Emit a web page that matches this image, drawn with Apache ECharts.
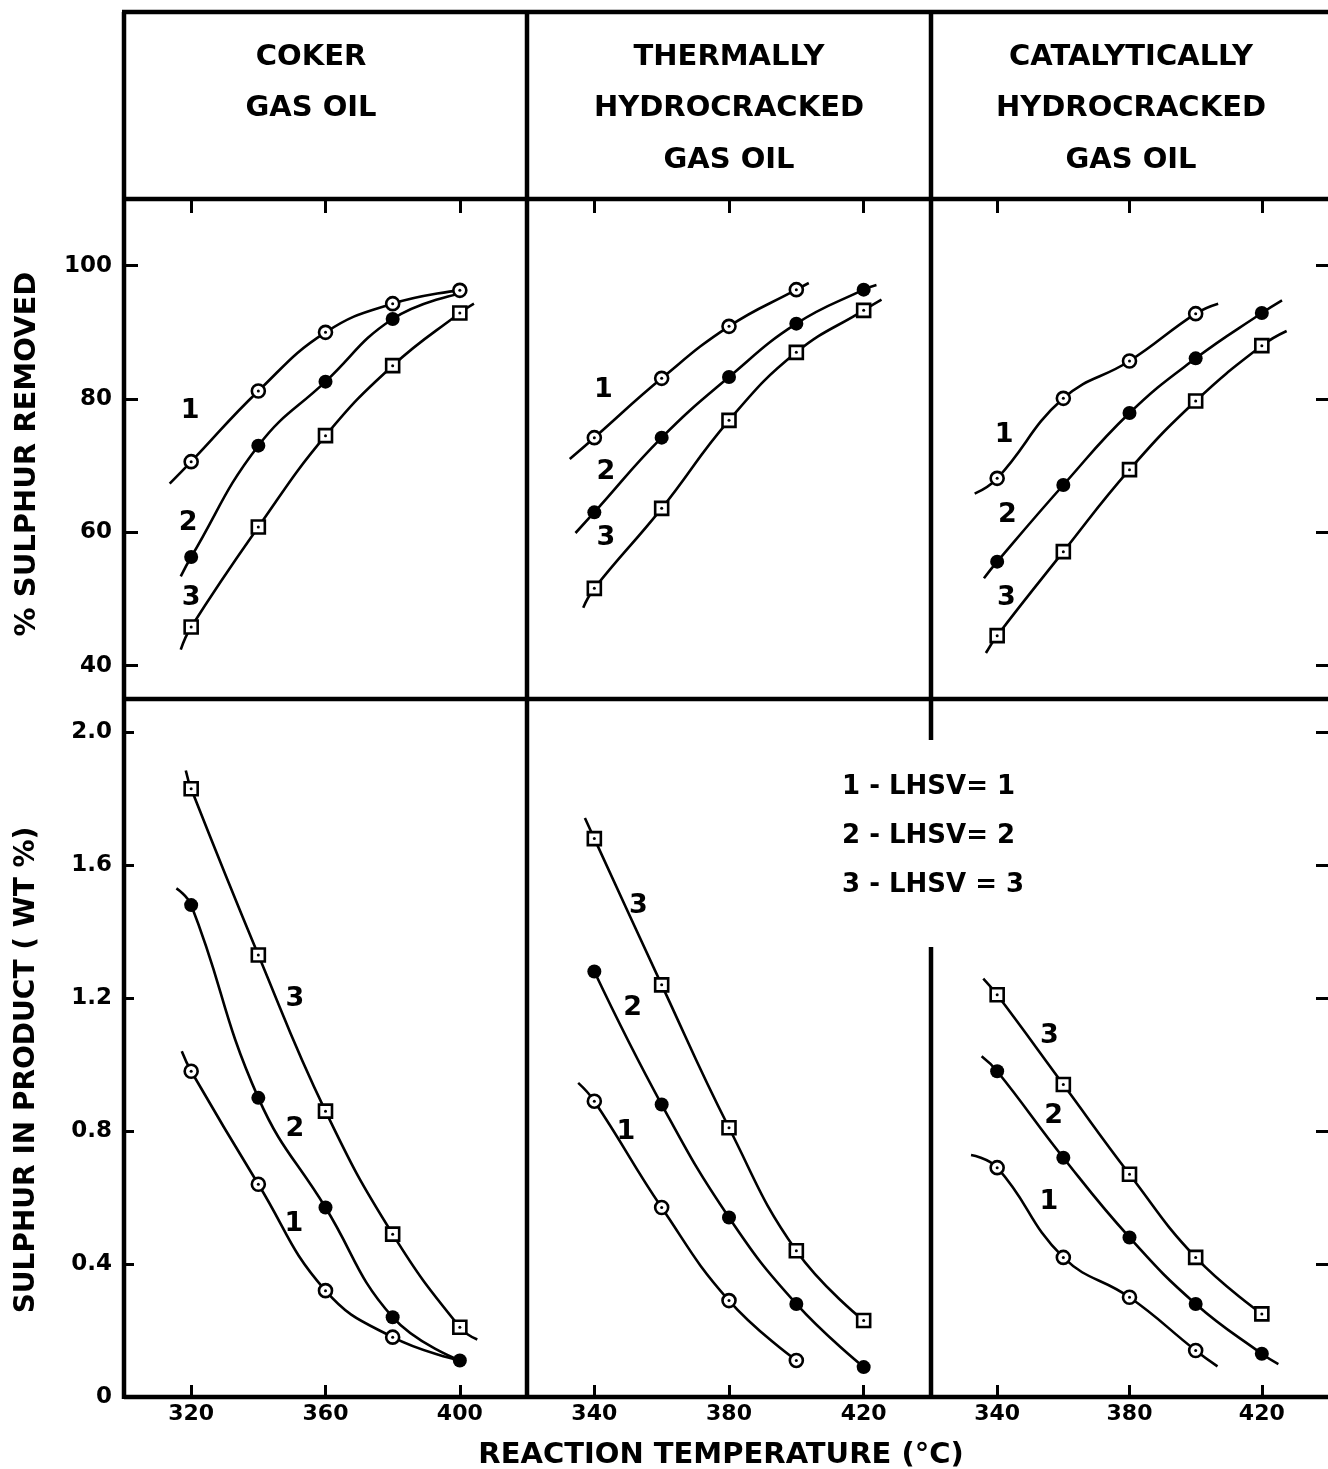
<!DOCTYPE html>
<html>
<head>
<meta charset="utf-8">
<title>Sulphur removal vs reaction temperature</title>
<script src="https://cdn.jsdelivr.net/npm/echarts@6/dist/echarts.min.js"></script>
<style>
  html, body { margin: 0; padding: 0; background: #fff; }
  #chart { width: 1328px; height: 1469px; }
</style>
</head>
<body>
<div id="chart"></div>
<script>
'use strict';

// ---- data ----
var feedTitles = [
    ['COKER', 'GAS OIL'],
    ['THERMALLY', 'HYDROCRACKED', 'GAS OIL'],
    ['CATALYTICALLY', 'HYDROCRACKED', 'GAS OIL']
];
var cokerTemps = [320, 340, 360, 380, 400];
var hydroTemps = [340, 360, 380, 400, 420];
var cokerTempTicks = [320, 360, 400];
var hydroTempTicks = [340, 380, 420];
var removedTicks = [40, 60, 80, 100];
var productTicks = [0, 0.4, 0.8, 1.2, 1.6, 2.0];
var curveNames = ['1', '2', '3'];
var legendLines = ['1 - LHSV= 1', '2 - LHSV= 2', '3 - LHSV = 3'];

// % sulphur removed (LHSV 1, 2, 3)
var cokerRemoved1 = [70.6, 81.2, 90.0, 94.3, 96.3];
var cokerRemoved2 = [56.3, 73.0, 82.6, 92.0, null];
var cokerRemoved3 = [45.8, 60.8, 74.5, 85.0, 92.9];
var thermalRemoved1 = [74.2, 83.1, 90.9, 96.4, null];
var thermalRemoved2 = [63.0, 74.2, 83.3, 91.3, 96.4];
var thermalRemoved3 = [51.6, 63.6, 76.8, 87.0, 93.3];
var catRemoved1 = [68.1, 80.1, 85.7, 92.8, null];
var catRemoved2 = [55.6, 67.1, 77.9, 86.1, 92.9];
var catRemoved3 = [44.5, 57.1, 69.4, 79.7, 88.0];

// sulphur in product, wt % (LHSV 1, 2, 3)
var cokerProduct1 = [0.98, 0.64, 0.32, 0.18, null];
var cokerProduct2 = [1.48, 0.90, 0.57, 0.24, 0.11];
var cokerProduct3 = [1.83, 1.33, 0.86, 0.49, 0.21];
var thermalProduct1 = [0.89, 0.57, 0.29, 0.11, null];
var thermalProduct2 = [1.28, 0.88, 0.54, 0.28, 0.09];
var thermalProduct3 = [1.68, 1.24, 0.81, 0.44, 0.23];
var catProduct1 = [0.69, 0.42, 0.30, 0.14, null];
var catProduct2 = [0.98, 0.72, 0.48, 0.28, 0.13];
var catProduct3 = [1.21, 0.94, 0.67, 0.42, 0.25];

// where the drawn curves run past the first / last point (null = stops on the point)
var cokerRemovedStart = [[313.6, 67.3], [316.9, 53.4], [316.9, 42.4]];
var cokerRemovedEnd = [null, [400, 95.8], [404.2, 94.3]];
var thermalRemovedStart = [[332.7, 71.0], [334.4, 59.9], [336.7, 48.7]];
var thermalRemovedEnd = [[403.7, 97.4], [423.8, 97.1], [425.3, 94.9]];
var catRemovedStart = [[333.2, 65.8], [336.0, 53.1], [336.6, 41.9]];
var catRemovedEnd = [[406.8, 94.3], [426.1, 94.8], [427.5, 90.2]];
var cokerProductStart = [[317.2, 1.04], [315.6, 1.53], [318.4, 1.885]];
var cokerProductEnd = [[400, 0.11], null, [405.2, 0.173]];
var thermalProductStart = [[335.2, 0.945], null, [337.2, 1.742]];
var thermalProductEnd = [null, null, null];
var catProductStart = [[332.1, 0.728], [335.3, 1.025], [335.8, 1.259]];
var catProductEnd = [[406.6, 0.092], [425.0, 0.099], null];

// where the 1 / 2 / 3 tags sit
var cokerRemovedTags = [[319.7, 78.2], [319.1, 61.4], [320.0, 50.2]];
var thermalRemovedTags = [[342.7, 81.4], [343.4, 69.1], [343.4, 59.2]];
var catRemovedTags = [[342.1, 74.6], [343.1, 62.6], [342.8, 50.1]];
var cokerProductTags = [[350.6, 0.52], [350.9, 0.805], [350.9, 1.198]];
var thermalProductTags = [[349.4, 0.798], [351.4, 1.169], [353.1, 1.476]];
var catProductTags = [[355.6, 0.587], [357.1, 0.844], [355.8, 1.086]];

// ---- layout ----
var frameL = 124, div1 = 527, div2 = 931, frameR = 1332;
var frameT = 12, headB = 199, midY = 699, baseY = 1397;
var gapTop = 740, gapBottom = 947;      // break in the right divider, lower half
var cols = [[frameL, div1], [div1, div2], [div2, frameR]];
var ink = '#000';
var font = '"DejaVu Sans", sans-serif';

var panels = [
    { temps: cokerTemps, values: [cokerRemoved1, cokerRemoved2, cokerRemoved3], start: cokerRemovedStart, end: cokerRemovedEnd, tags: cokerRemovedTags },
    { temps: hydroTemps, values: [thermalRemoved1, thermalRemoved2, thermalRemoved3], start: thermalRemovedStart, end: thermalRemovedEnd, tags: thermalRemovedTags },
    { temps: hydroTemps, values: [catRemoved1, catRemoved2, catRemoved3], start: catRemovedStart, end: catRemovedEnd, tags: catRemovedTags },
    { temps: cokerTemps, values: [cokerProduct1, cokerProduct2, cokerProduct3], start: cokerProductStart, end: cokerProductEnd, tags: cokerProductTags },
    { temps: hydroTemps, values: [thermalProduct1, thermalProduct2, thermalProduct3], start: thermalProductStart, end: thermalProductEnd, tags: thermalProductTags },
    { temps: hydroTemps, values: [catProduct1, catProduct2, catProduct3], start: catProductStart, end: catProductEnd, tags: catProductTags }
];

var grids = [], xAxes = [], yAxes = [], series = [];

panels.forEach(function (panel, p) {
    var row = p < 3 ? 0 : 1;
    var col = p % 3;
    var xTicks = col === 0 ? cokerTempTicks : hydroTempTicks;
    var yTicks = row === 0 ? removedTicks : productTicks;

    grids.push({
        left: cols[col][0],
        width: cols[col][1] - cols[col][0],
        top: row === 0 ? headB : midY,
        height: row === 0 ? midY - headB : baseY - midY
    });

    xAxes.push({
        type: 'value', gridIndex: p,
        min: col === 0 ? 300 : 320,
        max: col === 0 ? 420 : 440,
        position: row === 0 ? 'top' : 'bottom',
        axisLine: { show: false },
        axisTick: { inside: true, length: row === 0 ? 14 : 12, customValues: xTicks, lineStyle: { color: ink, width: 3 } },
        axisLabel: { show: row === 1, customValues: xTicks, margin: 6, color: ink, fontFamily: font, fontWeight: 'bold', fontSize: 22 },
        splitLine: { show: false }
    });

    yAxes.push({
        type: 'value', gridIndex: p,
        min: row === 0 ? 35 : 0,
        max: row === 0 ? 110 : 2.1,
        axisLine: { show: false },
        axisTick: { show: col === 0, inside: true, length: row === 0 ? 14 : 10, customValues: yTicks, lineStyle: { color: ink, width: 3 } },
        axisLabel: {
            show: col === 0, customValues: yTicks, margin: 12, color: ink,
            fontFamily: font, fontWeight: 'bold', fontSize: 23,
            formatter: function (v) { return row === 0 || v === 0 ? String(v) : v.toFixed(1); }
        },
        splitLine: { show: false }
    });

    for (var k = 0; k < 3; k++) {
        var pts = [];
        panel.temps.forEach(function (t, i) {
            if (panel.values[k][i] != null) pts.push([t, panel.values[k][i]]);
        });
        var curve = pts.slice();
        if (panel.start[k]) curve.unshift(panel.start[k]);
        if (panel.end[k]) curve.push(panel.end[k]);

        series.push({
            type: 'line', xAxisIndex: p, yAxisIndex: p, data: curve,
            smooth: 0.45, symbol: 'none', silent: true, z: 2,
            lineStyle: { color: ink, width: 2.6 }
        });

        var filled = k === 1;
        series.push({
            type: 'scatter', xAxisIndex: p, yAxisIndex: p, data: pts, silent: true, z: 3,
            symbol: k === 2 ? 'rect' : 'circle',
            symbolSize: filled ? 14 : 13,
            itemStyle: filled ? { color: ink, opacity: 1 } : { color: '#fff', borderColor: ink, borderWidth: 2.6, opacity: 1 }
        });
        if (!filled) {
            // small dot in the middle of the open marks
            series.push({
                type: 'scatter', xAxisIndex: p, yAxisIndex: p, data: pts, silent: true, z: 4,
                symbol: 'circle', symbolSize: 3, itemStyle: { color: ink, opacity: 1 }
            });
        }
    }

    series.push({
        type: 'scatter', xAxisIndex: p, yAxisIndex: p, silent: true, z: 5,
        symbolSize: 1, itemStyle: { color: 'rgba(0,0,0,0)', opacity: 1 },
        data: panel.tags.map(function (t, k) { return { name: curveNames[k], value: t }; }),
        label: { show: true, position: 'inside', formatter: '{b}', color: ink, fontFamily: font, fontWeight: 'bold', fontSize: 27 }
    });
});

// tick marks along the far right edge
[2, 5].forEach(function (p) {
    yAxes.push({
        type: 'value', gridIndex: p, position: 'right',
        min: p < 3 ? 35 : 0, max: p < 3 ? 110 : 2.1,
        axisLine: { show: false },
        axisTick: { inside: true, length: 12, customValues: p < 3 ? removedTicks : productTicks, lineStyle: { color: ink, width: 3 } },
        axisLabel: { show: false },
        splitLine: { show: false }
    });
});

// ---- frame, headings, titles ----
function rule(x1, y1, x2, y2) {
    return { type: 'line', silent: true, z: 10, shape: { x1: x1, y1: y1, x2: x2, y2: y2 }, style: { stroke: ink, lineWidth: 4.5 } };
}
function text(str, x, y, size, opts) {
    opts = opts || {};
    return {
        type: 'text', silent: true, z: 10, x: x, y: y, rotation: opts.rotation || 0,
        style: {
            text: str, fill: ink, align: opts.align || 'center', verticalAlign: 'middle',
            font: (opts.weight || 'bold') + ' ' + size + 'px ' + font
        }
    };
}

var graphics = [
    rule(frameL - 2, frameT, 1340, frameT),
    rule(frameL, frameT, frameL, baseY + 2),
    rule(frameL, headB, 1340, headB),
    rule(frameL, midY, 1340, midY),
    rule(frameL, baseY, 1340, baseY),
    rule(div1, frameT, div1, baseY),
    rule(div2, frameT, div2, gapTop),
    rule(div2, gapBottom, div2, baseY)
];

var headCenters = [311, 729, 1131];
feedTitles.forEach(function (lines, c) {
    lines.forEach(function (line, i) {
        graphics.push(text(line, headCenters[c], 57 + i * 51.5, 29));
    });
});

graphics.push(text('% SULPHUR REMOVED', 27, 454, 29, { rotation: Math.PI / 2 }));
graphics.push(text('SULPHUR IN PRODUCT ( WT %)', 27, 1070, 28, { rotation: Math.PI / 2 }));
graphics.push(text('REACTION TEMPERATURE (\u00B0C)', 721, 1455, 29));
legendLines.forEach(function (line, i) {
    graphics.push(text(line, 842, 787 + i * 49, 26, { align: 'left' }));
});

var chart = echarts.init(document.getElementById('chart'));
chart.setOption({
    animation: false,
    backgroundColor: '#fff',
    grid: grids,
    xAxis: xAxes,
    yAxis: yAxes,
    series: series,
    graphic: graphics
});
</script>
</body>
</html>
